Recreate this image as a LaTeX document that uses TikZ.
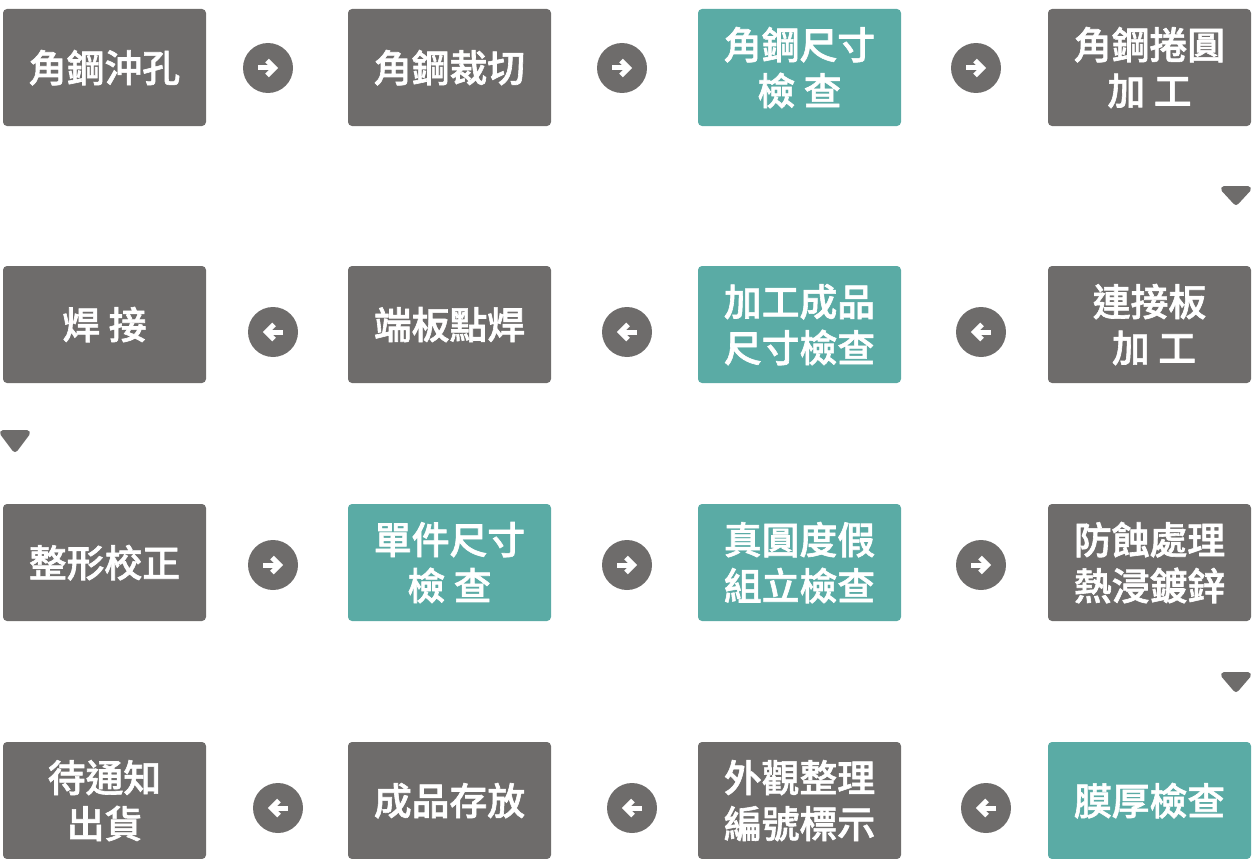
\documentclass[tikz,border=0pt]{standalone}
\usepackage{fontspec}
\newfontfamily\cjk[FakeBold=1.6]{Noto Sans CJK TC Medium}
\definecolor{greybox}{HTML}{6E6C6B}
\definecolor{tealbox}{HTML}{5AABA5}
\tikzset{
 x=1pt,y=-1pt,
 procbox/.style={minimum width=203pt,minimum height=117pt,inner sep=0pt,rounded corners=4pt,fill=greybox,text=white,align=center,
   text depth=3pt,font=\cjk\fontsize{37.8}{46}\selectfont},
 checkbox/.style={procbox,fill=tealbox},
 disc/.style={circle,fill=greybox,minimum size=50pt,inner sep=0pt},
 glyph/.style={draw=white,line width=5pt,line cap=butt,line join=miter},
 tri/.style={fill=greybox,draw=greybox,line width=6pt,line join=round},
}
\newcommand{\rarrow}[2]{\node[disc] (#1) at (#2) {};
 \draw[glyph] ([xshift=-10pt]#1.center) -- ([xshift=6pt]#1.center);
 \draw[glyph] ([xshift=-1pt,yshift=-7.5pt]#1.center) -- ([xshift=6.5pt]#1.center) -- ([xshift=-1pt,yshift=7.5pt]#1.center);}
\newcommand{\larrow}[2]{\node[disc] (#1) at (#2) {};
 \draw[glyph] ([xshift=10pt]#1.center) -- ([xshift=-6pt]#1.center);
 \draw[glyph] ([xshift=1pt,yshift=-7.5pt]#1.center) -- ([xshift=-6.5pt]#1.center) -- ([xshift=1pt,yshift=7.5pt]#1.center);}
\begin{document}
\begin{tikzpicture}
\useasboundingbox (0,0) rectangle (1254,859);
% row 1
\node[procbox] (a1) at (104.5,67.5) {角鋼沖孔};
\node[procbox] (a2) at (449.5,67.5) {角鋼裁切};
\node[checkbox] (a3) at (799.5,67.5) {角鋼尺寸\\檢 查};
\node[procbox] (a4) at (1149.5,67.5) {角鋼捲圓\\加 工};
\rarrow{ra1}{268,68}\rarrow{ra2}{622,68}\rarrow{ra3}{976,68}
% row 2
\node[procbox] (b1) at (104.5,324.5) {焊 接};
\node[procbox] (b2) at (449.5,324.5) {端板點焊};
\node[checkbox] (b3) at (799.5,324.5) {加工成品\\尺寸檢查};
\node[procbox] (b4) at (1149.5,324.5) {連接板\\\hspace*{9pt}加 工};
\larrow{rb1}{273,332}\larrow{rb2}{627,332}\larrow{rb3}{981,332}
% row 3
\node[procbox] (c1) at (104.5,562.5) {整形校正};
\node[checkbox] (c2) at (449.5,562.5) {單件尺寸\\檢 查};
\node[checkbox] (c3) at (799.5,562.5) {真圓度假\\組立檢查};
\node[procbox] (c4) at (1149.5,562.5) {防蝕處理\\熱浸鍍鋅};
\rarrow{rc1}{273,565}\rarrow{rc2}{627,565}\rarrow{rc3}{981,565}
% row 4
\node[procbox] (d1) at (104.5,800.5) {待通知\\出貨};
\node[procbox] (d2) at (449.5,800.5) {成品存放};
\node[procbox] (d3) at (799.5,800.5) {外觀整理\\編號標示};
\node[checkbox] (d4) at (1149.5,800.5) {膜厚檢查};
\larrow{rd1}{278,808}\larrow{rd2}{632,808}\larrow{rd3}{986,808}
% down triangles
\fill[tri] (1224,189) -- (1248,189) -- (1236,202) -- cycle;
\fill[tri] (3,433) -- (27,433) -- (15,449) -- cycle;
\fill[tri] (1224,675) -- (1248,675) -- (1236,689) -- cycle;
\end{tikzpicture}
\end{document}
